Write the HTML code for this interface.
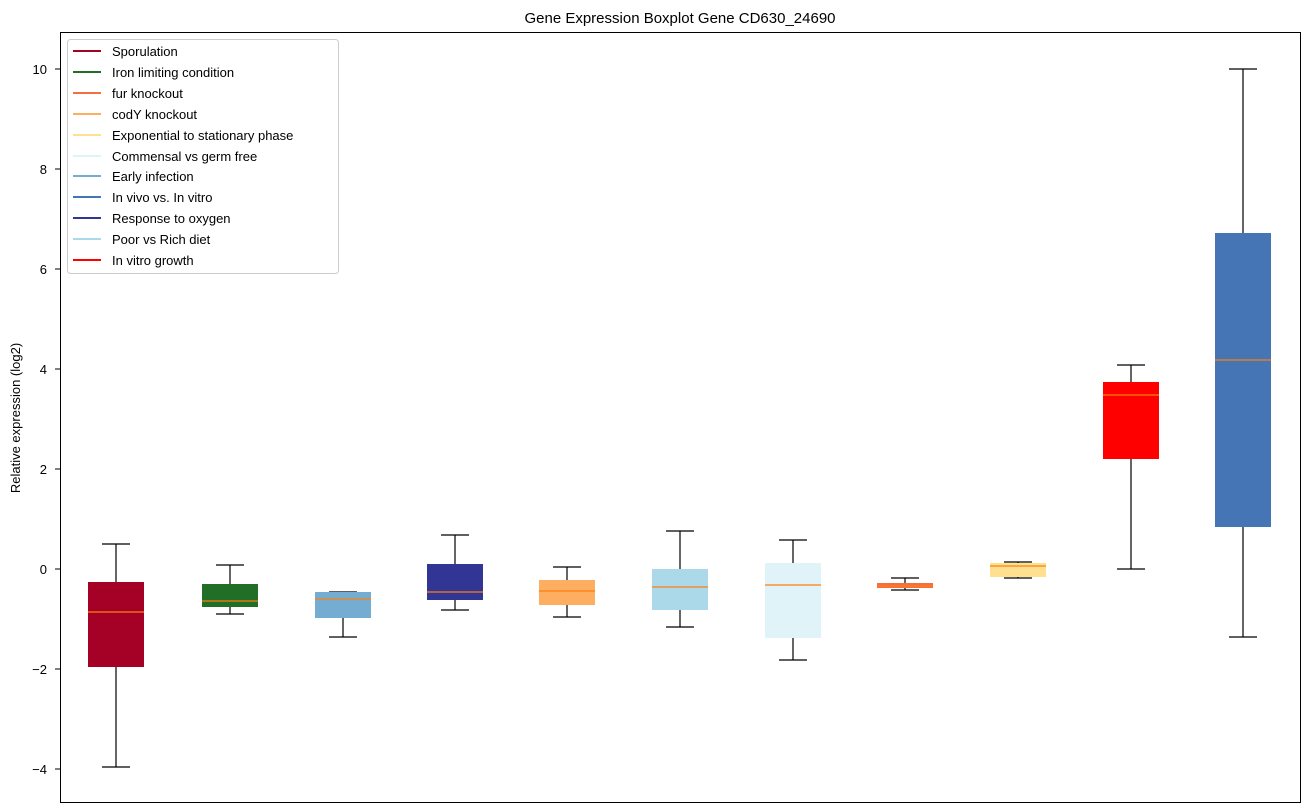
<!DOCTYPE html>
<html><head><meta charset="utf-8"><style>body{margin:0;background:#fff}svg{display:block}text{font-family:"Liberation Sans","DejaVu Sans",sans-serif}</style></head><body>
<svg width="1309" height="812" xmlns="http://www.w3.org/2000/svg">
<rect width="1309" height="812" fill="#fff"/>
<text x="680" y="23" font-size="15" text-anchor="middle">Gene Expression Boxplot Gene CD630_24690</text>
<text transform="translate(20,418) rotate(-90)" font-size="13" text-anchor="middle">Relative expression (log2)</text>
<g font-size="13" text-anchor="end">
<text x="47" y="74">10</text><text x="47" y="174">8</text><text x="47" y="274">6</text><text x="47" y="374">4</text><text x="47" y="474">2</text><text x="47" y="574">0</text><text x="47" y="674">−2</text><text x="47" y="774">−4</text>
</g>
<g stroke="#000"><line x1="55" y1="69" x2="60" y2="69"/><line x1="55" y1="169" x2="60" y2="169"/><line x1="55" y1="269" x2="60" y2="269"/><line x1="55" y1="369" x2="60" y2="369"/><line x1="55" y1="469" x2="60" y2="469"/><line x1="55" y1="569" x2="60" y2="569"/><line x1="55" y1="669" x2="60" y2="669"/><line x1="55" y1="769" x2="60" y2="769"/></g>
<g stroke-width="1.2" stroke="#000">
<path d="M116 544V582M116 667V767M102 544H130M102 767H130"/>
<path d="M230 565V584M230 607V614M216 565H244M216 614H244"/>
<path d="M343 592V592M343 618V637M329 592H357M329 637H357"/>
<path d="M455 535V564M455 600V610M441 535H469M441 610H469"/>
<path d="M567 567V580M567 605V617M553 567H581M553 617H581"/>
<path d="M680 531V569M680 610V627M666 531H694M666 627H694"/>
<path d="M793 540V563M793 638V660M779 540H807M779 660H807"/>
<path d="M905 578V583M905 588V590M891 578H919M891 590H919"/>
<path d="M1018 562V563M1018 577V578M1004 562H1032M1004 578H1032"/>
<path d="M1131 365V382M1131 459V569M1117 365H1145M1117 569H1145"/>
<path d="M1243 69V233M1243 527V637M1229 69H1257M1229 637H1257"/>
</g>
<g stroke="none">
<rect x="88" y="582" width="56" height="85" fill="#a50026"/>
<rect x="202" y="584" width="56" height="23" fill="#216e27"/>
<rect x="315" y="592" width="56" height="26" fill="#74add1"/>
<rect x="427" y="564" width="56" height="36" fill="#313695"/>
<rect x="539" y="580" width="56" height="25" fill="#fdae61"/>
<rect x="652" y="569" width="56" height="41" fill="#abd9e9"/>
<rect x="765" y="563" width="56" height="75" fill="#e0f3f8"/>
<rect x="877" y="583" width="56" height="5" fill="#f46d43"/>
<rect x="990" y="563" width="56" height="14" fill="#fee090"/>
<rect x="1103" y="382" width="56" height="77" fill="#ff0000"/>
<rect x="1215" y="233" width="56" height="294" fill="#4575b4"/>
</g>
<g stroke="#ff7f0e" stroke-width="1.2">
<path d="M88 612H144M202 601H258M315 599H371M427 592H483M539 591H595M652 587H708M765 585H821M877 586H933M990 566H1046M1103 395H1159M1215 360H1271"/>
</g>
<rect x="60.5" y="32.5" width="1240" height="770" fill="none" stroke="#000"/>
<rect x="67.5" y="39.5" width="271" height="234" rx="3" fill="#fff" fill-opacity="0.8" stroke="#ccc"/>
<g font-size="13">
<line x1="73" y1="51" x2="101" y2="51" stroke="#a50026" stroke-width="2"/><text x="112" y="56">Sporulation</text>
<line x1="73" y1="72" x2="101" y2="72" stroke="#216e27" stroke-width="2"/><text x="112" y="77">Iron limiting condition</text>
<line x1="73" y1="93" x2="101" y2="93" stroke="#f46d43" stroke-width="2"/><text x="112" y="98">fur knockout</text>
<line x1="73" y1="114" x2="101" y2="114" stroke="#fdae61" stroke-width="2"/><text x="112" y="119">codY knockout</text>
<line x1="73" y1="135" x2="101" y2="135" stroke="#fee090" stroke-width="2"/><text x="112" y="140">Exponential to stationary phase</text>
<line x1="73" y1="156" x2="101" y2="156" stroke="#e0f3f8" stroke-width="2"/><text x="112" y="161">Commensal vs germ free</text>
<line x1="73" y1="176" x2="101" y2="176" stroke="#74add1" stroke-width="2"/><text x="112" y="181">Early infection</text>
<line x1="73" y1="197" x2="101" y2="197" stroke="#4575b4" stroke-width="2"/><text x="112" y="202">In vivo vs. In vitro</text>
<line x1="73" y1="218" x2="101" y2="218" stroke="#313695" stroke-width="2"/><text x="112" y="223">Response to oxygen</text>
<line x1="73" y1="239" x2="101" y2="239" stroke="#abd9e9" stroke-width="2"/><text x="112" y="244">Poor vs Rich diet</text>
<line x1="73" y1="260" x2="101" y2="260" stroke="#ff0000" stroke-width="2"/><text x="112" y="265">In vitro growth</text>
</g>
</svg>
</body></html>
